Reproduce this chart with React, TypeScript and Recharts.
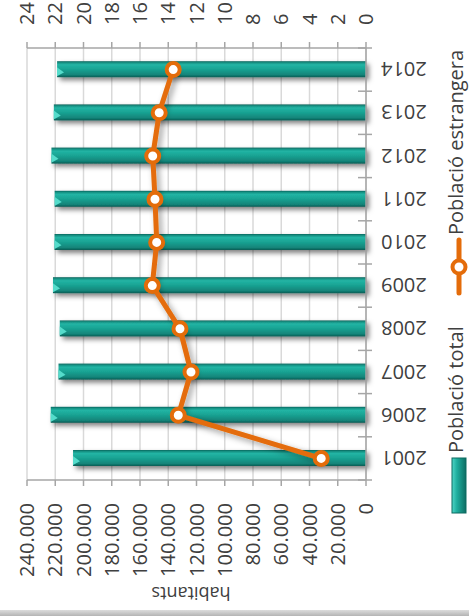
import { Bar, CartesianGrid, ComposedChart, Line, XAxis, YAxis } from 'recharts';

const years = ['2001', '2006', '2007', '2008', '2009', '2010', '2011', '2012', '2013', '2014'];
const totalPopulation = [207400, 223200, 217700, 216800, 221600, 220500, 220400, 222700, 221000, 218700];
const foreignPct = [3.17, 13.29, 12.39, 13.17, 15.13, 14.82, 14.94, 15.1, 14.64, 13.65];
const habitantsTicks = [0, 20000, 40000, 60000, 80000, 100000, 120000, 140000, 160000, 180000, 200000, 220000, 240000];
const pctTicks = [0, 2, 4, 6, 8, 10, 12, 14, 16, 18, 20, 22, 24];

const data = years.map((year, i) => ({
  year,
  total: totalPopulation[i],
  foreign: foreignPct[i],
}));

const CHART_W = 616;
const CHART_H = 469;
const LEFT_AXIS_W = 136;
const RIGHT_AXIS_W = 48;
const BAND = (CHART_W - LEFT_AXIS_W - RIGHT_AXIS_W) / years.length;

const FONT = '"Open Sans", sans-serif';
const TEXT = '#404040';
const AXIS = '#a6a6a6';
const ORANGE = '#E46C0A';

const formatHabitants = (v: number) => (v === 0 ? '0' : `${v / 1000}.000`);

const css = `
.recharts-line-curve { filter: url(#lineShadow); }
`;

type TickProps = { x?: number; y?: number; index?: number; payload?: { value: string } };

// year label plus the small crossing ticks between categories
const YearTick = ({ x = 0, y = 0, index = 0, payload }: TickProps) => {
  const axisY = y - 15;
  const bx = x - BAND / 2;
  return (
    <g>
      <line x1={bx} y1={axisY - 8} x2={bx} y2={axisY + 6} stroke={AXIS} strokeWidth={1.5} />
      {index === years.length - 1 && (
        <line x1={bx + BAND} y1={axisY - 8} x2={bx + BAND} y2={axisY + 6} stroke={AXIS} strokeWidth={1.5} />
      )}
      <text
        x={x}
        y={y}
        transform={`rotate(-90 ${x} ${y})`}
        textAnchor="end"
        dominantBaseline="central"
        fontSize={20}
        fontFamily={FONT}
        fill={TEXT}
      >
        {payload?.value}
      </text>
    </g>
  );
};

type BarShapeProps = { x?: number; y?: number; width?: number; height?: number };

// column with a little bevel on its top end
const BevelBar = ({ x = 0, y = 0, width = 0, height = 0 }: BarShapeProps) => (
  <g filter="url(#barShadow)">
    <rect x={x} y={y} width={width} height={height} fill="url(#barGrad)" />
    <polygon
      points={`${x + 1},${y} ${x + width * 0.62},${y} ${x + width * 0.3},${y + 7}`}
      fill="#55dccb"
    />
  </g>
);

const Legend = () => (
  <svg
    width={CHART_W}
    height={CHART_H}
    style={{ position: 'absolute', left: 0, top: 0, pointerEvents: 'none' }}
  >
    <defs>
      <linearGradient id="legendGrad" x1="0" y1="0" x2="0" y2="1">
        <stop offset="0" stopColor="#4fd6c6" />
        <stop offset="0.35" stopColor="#1fae9e" />
        <stop offset="1" stopColor="#0d6d63" />
      </linearGradient>
    </defs>
    <rect x={103} y={452} width={55} height={14} fill="url(#legendGrad)" stroke="#0c6a61" strokeWidth={1} />
    <text x={163} y={455} dominantBaseline="central" fontSize={20} fontFamily={FONT} fill={TEXT}>
      Població total
    </text>
    <line x1={323} y1={459} x2={376} y2={459} stroke={ORANGE} strokeWidth={5} strokeLinecap="round" />
    <circle cx={349} cy={459} r={6.5} fill="#fff" stroke={ORANGE} strokeWidth={4} />
    <text x={381} y={455} dominantBaseline="central" fontSize={20} fontFamily={FONT} fill={TEXT}>
      Població estrangera
    </text>
  </svg>
);

export default function App() {
  return (
    <div
      style={{
        position: 'fixed',
        left: 0,
        top: 0,
        width: CHART_H,
        height: CHART_W,
        overflow: 'hidden',
        background: '#fff',
      }}
    >
      <style>{css}</style>
      <div
        style={{
          position: 'absolute',
          left: 0,
          top: 0,
          width: CHART_W,
          height: CHART_H,
          transformOrigin: '0 0',
          transform: `translate(0px, ${CHART_W}px) rotate(-90deg)`,
        }}
      >
        <ComposedChart width={CHART_W} height={CHART_H} data={data} margin={{ top: 27, right: 0, bottom: 0, left: 0 }}>
          <defs>
            <linearGradient id="barGrad" x1="0" y1="0" x2="1" y2="0">
              <stop offset="0" stopColor="#0a5a52" />
              <stop offset="0.15" stopColor="#128479" />
              <stop offset="0.5" stopColor="#19a393" />
              <stop offset="0.78" stopColor="#22b4a4" />
              <stop offset="0.9" stopColor="#179486" />
              <stop offset="1" stopColor="#0c665d" />
            </linearGradient>
            <filter id="barShadow" x="-60%" y="-10%" width="220%" height="120%">
              <feDropShadow dx={-3} dy={3} stdDeviation={2.5} floodColor="#000" floodOpacity={0.5} />
            </filter>
            <filter id="lineShadow" x="-20%" y="-20%" width="140%" height="140%">
              <feDropShadow dx={-3} dy={3} stdDeviation={3} floodColor="#000" floodOpacity={0.4} />
            </filter>
          </defs>
          <CartesianGrid yAxisId="left" vertical={false} stroke="#d9d9d9" strokeWidth={1.5} />
          <XAxis
            dataKey="year"
            height={103}
            tick={<YearTick />}
            tickLine={false}
            tickMargin={9}
            axisLine={{ stroke: AXIS, strokeWidth: 1.5 }}
          />
          <YAxis
            yAxisId="left"
            width={LEFT_AXIS_W}
            domain={[0, 240000]}
            ticks={habitantsTicks}
            tickFormatter={formatHabitants}
            tick={{ fontSize: 20, fontFamily: FONT, fill: TEXT }}
            tickSize={6}
            tickMargin={17}
            tickLine={{ stroke: AXIS, strokeWidth: 1.5 }}
            axisLine={{ stroke: AXIS, strokeWidth: 1.5 }}
            label={{
              content: () => (
                <text
                  x={22}
                  y={191}
                  transform="rotate(-90 22 191)"
                  textAnchor="middle"
                  dominantBaseline="central"
                  fontSize={18}
                  fontFamily={FONT}
                  fill={TEXT}
                >
                  habitants
                </text>
              ),
            }}
          />
          <YAxis
            yAxisId="right"
            orientation="right"
            width={RIGHT_AXIS_W}
            domain={[0, 24]}
            ticks={pctTicks}
            tick={{ fontSize: 20, fontFamily: FONT, fill: TEXT, textAnchor: 'start' }}
            tickSize={6}
            tickMargin={17}
            tickLine={{ stroke: AXIS, strokeWidth: 1.5 }}
            axisLine={{ stroke: AXIS, strokeWidth: 1.5 }}
          />
          <Bar yAxisId="left" dataKey="total" barSize={16} shape={<BevelBar />} isAnimationActive={false} />
          <Line
            yAxisId="right"
            dataKey="foreign"
            type="linear"
            stroke={ORANGE}
            strokeWidth={5}
            strokeLinejoin="round"
            dot={{ r: 6.5, fill: '#fff', stroke: ORANGE, strokeWidth: 4 }}
            activeDot={false}
            isAnimationActive={false}
          />
        </ComposedChart>
        <Legend />
        <div
          style={{
            position: 'absolute',
            left: 0,
            top: 0,
            width: 6,
            height: CHART_H,
            background: 'linear-gradient(to right, #b4b4b4, #dcdcdc)',
          }}
        />
      </div>
    </div>
  );
}
